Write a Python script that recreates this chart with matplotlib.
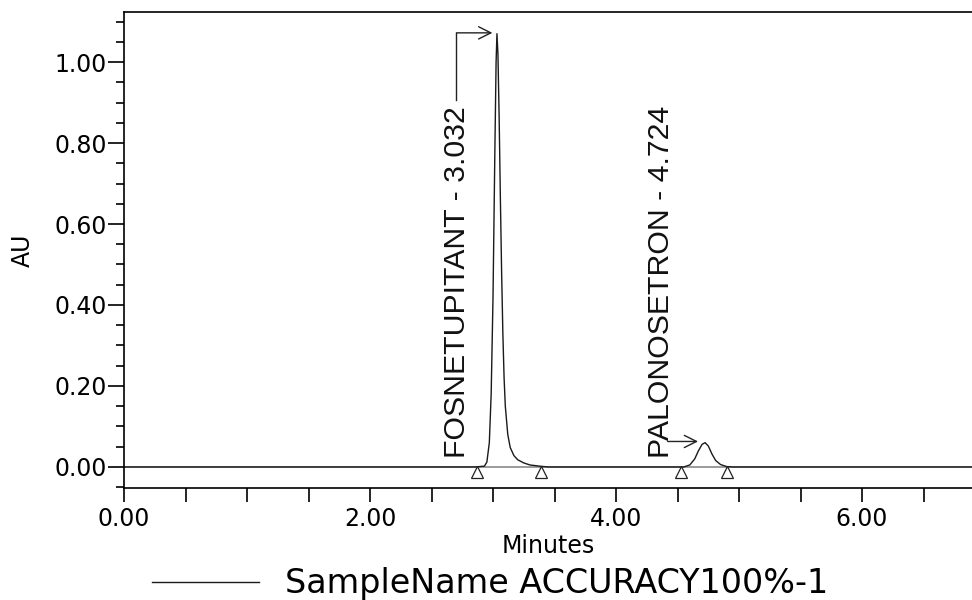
import matplotlib
matplotlib.use("Agg")
import matplotlib.pyplot as plt
from matplotlib.ticker import MultipleLocator, FixedLocator

# ---- data ----
time_min = [0.00, 2.85, 2.93, 2.95, 2.97, 2.985, 3.00, 3.015, 3.025, 3.032,
            3.04, 3.05, 3.06, 3.07, 3.08, 3.09, 3.10, 3.12, 3.14, 3.17,
            3.20, 3.25, 3.30, 3.38, 3.45,
            4.55, 4.60, 4.64, 4.67, 4.70, 4.724, 4.75, 4.78, 4.81, 4.85,
            4.90, 4.95, 6.894]
absorb_au = [0.000, 0.000, 0.002, 0.012, 0.060, 0.180, 0.420, 0.780, 1.000, 1.070,
             1.020, 0.860, 0.660, 0.480, 0.330, 0.220, 0.150, 0.080, 0.048, 0.028,
             0.018, 0.010, 0.005, 0.002, 0.000,
             0.000, 0.005, 0.020, 0.040, 0.056, 0.060, 0.052, 0.032, 0.016, 0.006,
             0.001, 0.000, 0.000]

peak_names = ["FOSNETUPITANT - 3.032", "PALONOSETRON - 4.724"]
peak_rt = [3.032, 4.724]
peak_label_x = [2.711, 4.362]
integ_marks = [2.868, 3.387, 4.525, 4.900]
legend_label = "SampleName ACCURACY100%-1"
x_label = "Minutes"
y_label = "AU"

fig = plt.figure(figsize=(9.72, 6.0), dpi=100)
ax = fig.add_axes([124/972, 1-488/600, 1-124/972, (488-12)/600])

line, = ax.plot(time_min, absorb_au, color="#1a1a1a", lw=1.0, label=legend_label)
ax.axhline(0, color="#8a8a8a", lw=1.2, zorder=1)
ax.plot(integ_marks, [-0.012]*len(integ_marks), linestyle="none", marker="^",
        markersize=8, markerfacecolor="white", markeredgecolor="#222222",
        markeredgewidth=0.9, zorder=4, clip_on=False)

ax.set_xlim(0, 6.894)

ax.spines["right"].set_visible(False)
for s in ["left", "bottom", "top"]:
    ax.spines[s].set_linewidth(1.2)

ax.xaxis.set_major_locator(FixedLocator([0, 2, 4, 6]))
ax.xaxis.set_minor_locator(MultipleLocator(0.5))
ax.yaxis.set_major_locator(FixedLocator([0, 0.2, 0.4, 0.6, 0.8, 1.0]))
ax.yaxis.set_minor_locator(MultipleLocator(0.05))
ax.set_xticklabels(["0.00", "2.00", "4.00", "6.00"])
ax.set_yticklabels(["0.00", "0.20", "0.40", "0.60", "0.80", "1.00"])
ax.set_ylim(-0.0519, 1.1235)

ax.tick_params(axis="x", which="both", direction="out", length=10, width=1.2,
               labelsize=17, pad=4)
ax.tick_params(axis="y", which="major", direction="out", length=11.5, width=1.2,
               labelsize=17, pad=1)
ax.tick_params(axis="y", which="minor", direction="out", length=6, width=1.2)
ax.tick_params(top=False, right=False)

ax.set_xlabel(x_label, fontsize=17, labelpad=2)
ax.set_ylabel(y_label, fontsize=17, labelpad=14)

# peak labels
for name, lx in zip(peak_names, peak_label_x):
    ax.text(lx, 0.022, name, rotation=90, ha="center", va="bottom",
            fontsize=21.8, family="Liberation Sans", color="#111111")

# fosnetupitant arrow (bracket)
ax.plot([2.703, 2.703], [0.905, 1.072], color="#222222", lw=1.0)
ax.annotate("", xy=(2.995, 1.072), xytext=(2.703, 1.072),
            arrowprops=dict(arrowstyle="->", color="#222222", lw=1.0,
                            mutation_scale=22, shrinkA=0, shrinkB=0))
# palonosetron arrow
ax.annotate("", xy=(4.667, 0.063), xytext=(4.42, 0.063),
            arrowprops=dict(arrowstyle="->", color="#222222", lw=1.0,
                            mutation_scale=22, shrinkA=0, shrinkB=0))

fig.legend(handles=[line], labels=[legend_label], loc="center left",
           bbox_to_anchor=(152/972, 1-584/600), frameon=False, fontsize=24,
           handlelength=3.2, handletextpad=0.8, borderpad=0, borderaxespad=0)

fig.savefig("out.png", dpi=100)
